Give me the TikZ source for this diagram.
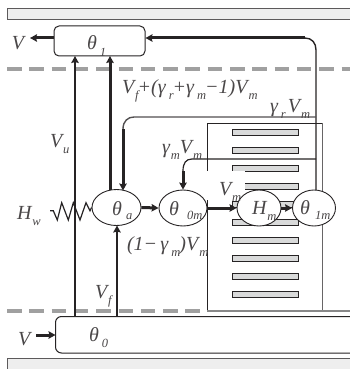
\documentclass[tikz,border=0pt]{standalone}
\usepackage{fontspec}
\setmainfont{Liberation Serif}
\definecolor{ink}{HTML}{262324}
\definecolor{txt}{HTML}{4A4748}
\definecolor{dash}{HTML}{A0A0A0}
\definecolor{barfill}{HTML}{D9DADA}
\definecolor{band}{HTML}{EEEEEE}
\newcommand{\sbs}[1]{\raisebox{-0.3em}{\fontsize{12.5}{13}\selectfont\kern0.08em #1}}
\newcommand{\sbt}[1]{\fontsize{12.5}{13}\selectfont #1}
\tikzset{
 x=1pt,y=-1pt,
 lab/.style={inner sep=0pt,outer sep=0pt,anchor=base west,text=txt,font=\fontsize{20}{21}\selectfont\itshape},
 bandbox/.style={draw=ink!75,fill=band,line width=1pt},
 gdash/.style={draw=dash,line width=4pt,dash pattern=on 14.5pt off 7.8pt},
 stat/.style={draw=ink,line width=1pt,rounded corners=5pt,fill=white},
 zone/.style={draw=ink,fill=white,ellipse,line width=0.9pt,inner sep=0pt,minimum height=36pt},
 flow/.style={draw=ink,line width=2pt},
 flowthick/.style={draw=ink,line width=3pt},
 tip/.style={-{Stealth[length=7pt,width=7.5pt,inset=1pt]}},
 barbox/.style={draw=ink,fill=barfill,line width=1pt},
}
\usetikzlibrary{arrows.meta,shapes.geometric}
\begin{document}
\begin{tikzpicture}
\useasboundingbox (0,0) rectangle (350,369);
\clip (0,0) rectangle (350,369);
% bands
\draw[bandbox] (7,8.5) rectangle (356,20);
\fill[band] (7,358) rectangle (356,375);
\draw[bandbox] (7,375) -- (7,358.5) -- (356,358.5);
% dashed lines
\draw[gdash] (7,69) -- (350,69);
\draw[gdash] (7,311) -- (202,311);
% machine box
\draw[draw=ink,line width=0.8pt] (207.4,310) -- (207.4,123.4) -- (322.5,123.4);
\draw[draw=ink!70,line width=0.8pt] (322.5,123.4) -- (322.5,310);
\draw[draw=dash!85!black,line width=2.4pt] (207,310.7) -- (350,310.7);
% bars
\foreach \y in {129,147,165,183,201,219,237,255,273,291}
  \draw[barbox] (232,\y+0.5) rectangle (298,\y+6.5);
% white patch behind the V_m label
\fill[white] (205,171) rectangle (245,200);
% boxes
\node[stat,minimum width=91pt,minimum height=30pt,inner sep=0pt] (t1) at (99.5,41) {};
\draw[stat,rounded corners=6pt] (360,316.5) -- (55.5,316.5) -- (55.5,353) -- (360,353);
\coordinate (t0w) at (55.5,335);
% upper returns
\coordinate (vl) at (30,38);
\coordinate (cr) at (316,38);
\coordinate (bot1) at (75,316);
\coordinate (top1) at (75,56);
\coordinate (top2) at (110,56);
\coordinate (vin) at (36,335);
\coordinate (r0) at (50,210.7);
% zones
\node[zone,minimum width=49pt] (ta) at (116.5,207.5) {};
\node[zone,minimum width=48pt] (t0m) at (183,208) {};
\node[zone,minimum width=44pt] (hm) at (259,208) {};
\node[zone,minimum width=43pt] (t1m) at (314,208) {};
\coordinate (vfb) at (117,316);
\coordinate (vft) at (117,225.5);
% connectors
\draw[flowthick,tip] (t1.west |- vl) -- (vl);
\draw[flowthick,tip] (305,38) -- (t1.east |- cr);
\draw[draw=ink,line width=1.4pt] (305,38) .. controls (312,38) and (316,43) .. (316,50) -- (316,190);
\draw[flow,tip] (bot1) -- (top1);
\draw[flowthick,tip] (110,190) -- (top2);
\draw[draw=ink!80,line width=1.4pt] (316,117) -- (134,117) .. controls (128,117) and (123,121) .. (123,129);
\draw[flowthick,tip] (123,129) -- (123,190.5);
\draw[draw=ink,line width=1.2pt] (316,159) -- (192,159) .. controls (186,159) and (183,163) .. (183,171);
\draw[flowthick,tip] (183,171) -- (t0m.north);
\draw[flowthick,tip] (ta.east) -- (t0m.west);
\draw[flowthick,tip] (t0m.east) -- (hm.west);
\draw[flowthick,tip] (hm.east) -- (t1m.west);
\draw[flow,tip] (vfb) -- (vft);
\draw[flowthick,tip] (vin) -- (t0w);
\draw[draw=ink,line width=1.2pt,line join=miter] (r0) -- (53.3,210.7) -- (57.3,220) -- (61.7,202.7) -- (68.3,220) -- (73.3,202.7) -- (80,220) -- (86,202.7) -- (90,210.7) -- (ta.west);
% labels
\node[lab] (a1) at (12,49) {V};
\node[lab] (a2) at (87,50) {θ\sbs{\,1}};
\node[lab] (a3) at (122,93) {V\sbs{f}\kern-0.05em+(γ\sbs{\,r}\kern-0.05em+γ\sbs{\,m}\kern-0.05em−1)V\sbs{m}};
\node[lab] (a4) at (270,112) {γ\sbs{\,r}\kern0.1em V\sbs{m}};
\node[lab] (a5) at (50,147) {V\sbs{u}};
\node[lab] (a6) at (162,153) {γ\sbs{m}V\sbs{m}};
\node[lab] (a7) at (17,219) {H\sbs{w}};
\node[lab] (a8) at (112,215) {θ};
\node[lab] (a8s) at (126,219) {\sbt{a}};
\node[lab] (a9) at (169,215) {θ};
\node[lab] (a9s) at (187,219) {\sbt{0m}};
\node[lab] (a10) at (219,195) {V\sbs{m}};
\node[lab] (a11) at (252,214) {H\sbs{m}};
\node[lab] (a12) at (300,214) {θ};
\node[lab] (a12s) at (315,219) {\sbt{1m}};
\node[lab] (a13) at (127,250) {(1−\,γ\sbs{\,m}\kern-0.05em)V\sbs{m}};
\node[lab] (a14) at (95,298) {V\sbs{f}};
\node[lab] (a15) at (18,345) {V};
\node[lab] (a16) at (89,341) {θ\sbs{\,0}};
\end{tikzpicture}
\end{document}
